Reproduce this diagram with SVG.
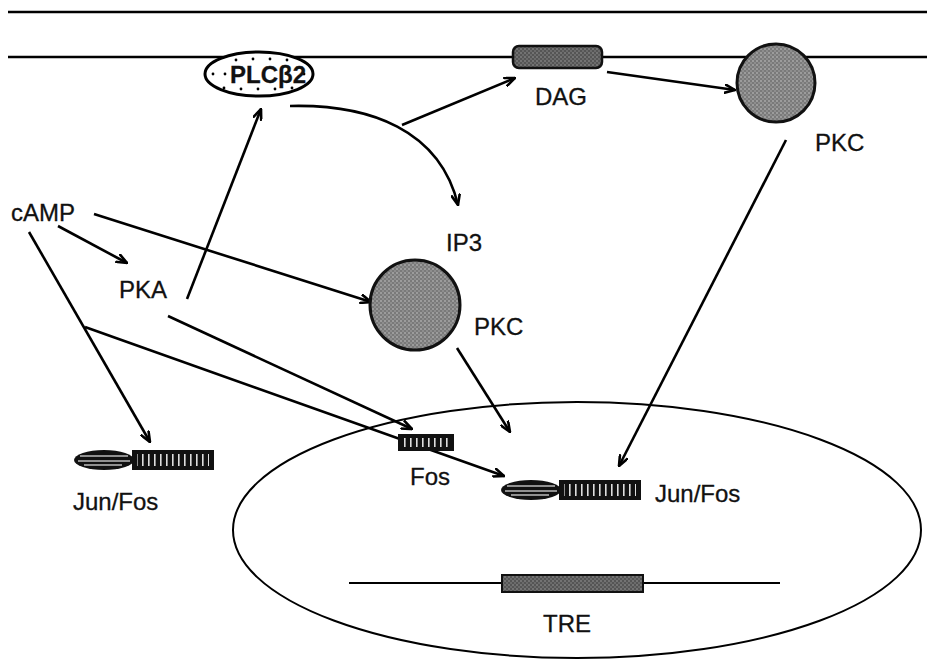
<svg xmlns="http://www.w3.org/2000/svg" width="927" height="662" viewBox="0 0 927 662">
<defs>
<marker id="arr" viewBox="0 0 12 10" refX="11" refY="5" markerWidth="12" markerHeight="10" markerUnits="userSpaceOnUse" orient="auto">
<path d="M0,0.5 L11,5 L0,9.5" fill="none" stroke="#000" stroke-width="2.6"/>
</marker>
<pattern id="stip" width="4" height="4" patternUnits="userSpaceOnUse">
<rect width="4" height="4" fill="#7a7a7a"/>
<circle cx="1" cy="1" r="0.8" fill="#c8c8c8"/>
<circle cx="3" cy="3" r="0.8" fill="#a8a8a8"/>
</pattern>
<pattern id="stipd" width="4" height="4" patternUnits="userSpaceOnUse">
<rect width="4" height="4" fill="#555"/>
<circle cx="1" cy="1" r="0.8" fill="#999"/>
<circle cx="3" cy="3" r="0.8" fill="#888"/>
</pattern>
<pattern id="stripes" width="6" height="4" patternUnits="userSpaceOnUse">
<rect width="6" height="4" fill="#111"/>
<rect x="2" width="1.6" height="4" fill="#ddd"/>
</pattern>
<g id="junfos">
<ellipse cx="0" cy="0" rx="30" ry="10" fill="#111"/>
<path d="M-24,-4 H24 M-26,1 H26 M-20,5 H18" stroke="#bbb" stroke-width="1.3"/>
<rect x="28" y="-10" width="82" height="20" fill="#111"/>
<rect x="33" y="-6" width="72" height="12" fill="url(#stripes)"/>
</g>
</defs>
<style>
text{font-family:"Liberation Sans",Arial,sans-serif;font-size:24px;fill:#111;stroke:#111;stroke-width:0.3}
.ln{fill:none;stroke:#000;stroke-width:2.6}
.ar{fill:none;stroke:#000;stroke-width:2.6;marker-end:url(#arr)}
.dot{fill:#000}
</style>
<rect width="927" height="662" fill="#fff"/>
<g id="membrane">
<line x1="8" y1="12" x2="927" y2="12" class="ln"/>
<line x1="8" y1="57" x2="927" y2="57" class="ln"/>
</g>
<g id="nucleus">
<ellipse cx="577" cy="530" rx="344" ry="128" fill="none" stroke="#000" stroke-width="2"/>
</g>
<g id="connectors">
<line x1="187" y1="299" x2="261" y2="109" class="ar"/>
<path d="M290,106 C370,104 440,130 458,205" class="ar"/>
<line x1="402" y1="125" x2="515" y2="78" class="ar"/>
<line x1="607" y1="72" x2="735" y2="90" class="ar"/>
<line x1="786" y1="140" x2="619" y2="466" class="ar"/>
<line x1="58" y1="226" x2="127" y2="263" class="ar"/>
<line x1="94" y1="214" x2="371" y2="302" class="ar"/>
<line x1="29" y1="232" x2="150" y2="442" class="ar"/>
<line x1="85" y1="327" x2="504" y2="476" class="ar"/>
<line x1="168" y1="316" x2="412" y2="429" class="ar"/>
<line x1="457" y1="348" x2="510" y2="432" class="ar"/>
</g>
<g id="plcb2">
<ellipse cx="259" cy="74" rx="54" ry="22" fill="#fff" stroke="#000" stroke-width="3"/>
<g class="dot">
<circle cx="236" cy="60" r="1.4"/><circle cx="253" cy="59" r="1.4"/><circle cx="270" cy="59" r="1.4"/><circle cx="287" cy="60" r="1.4"/>
<circle cx="213" cy="74" r="1.4"/><circle cx="225" cy="74" r="1.4"/><circle cx="304" cy="74" r="1.4"/>
<circle cx="224" cy="88" r="1.4"/><circle cx="241" cy="89" r="1.4"/><circle cx="258" cy="89" r="1.4"/><circle cx="275" cy="89" r="1.4"/><circle cx="292" cy="88" r="1.4"/>
</g>
<text x="268" y="83" text-anchor="middle" font-weight="bold" font-size="22">PLCβ2</text>
</g>
<g id="dag">
<rect x="513" y="46" width="89" height="22" rx="6" fill="url(#stipd)" stroke="#111" stroke-width="2.5"/>
<text x="535" y="105">DAG</text>
</g>
<g id="pkc1">
<circle cx="776" cy="83" r="39" fill="url(#stip)" stroke="#111" stroke-width="3"/>
<text x="815" y="151">PKC</text>
</g>
<g id="camp"><text x="11" y="221">cAMP</text></g>
<g id="pka"><text x="119" y="298">PKA</text></g>
<g id="ip3"><text x="446" y="251">IP3</text></g>
<g id="pkc2">
<circle cx="415" cy="305" r="45" fill="url(#stip)" stroke="#111" stroke-width="3"/>
<text x="474" y="335">PKC</text>
</g>
<g id="fos">
<rect x="398" y="434" width="56" height="17" fill="#111"/>
<rect x="402" y="438" width="48" height="9" fill="url(#stripes)"/>
<text x="410" y="485">Fos</text>
</g>
<g id="junfos-left">
<use href="#junfos" x="104" y="460"/>
<text x="73" y="510">Jun/Fos</text>
</g>
<g id="junfos-nuc">
<use href="#junfos" x="531" y="490"/>
<text x="655" y="502">Jun/Fos</text>
</g>
<g id="tre">
<line x1="349" y1="583" x2="780" y2="583" stroke="#000" stroke-width="2.2"/>
<rect x="502" y="575" width="141" height="17" fill="url(#stipd)" stroke="#111" stroke-width="2"/>
<text x="543" y="632">TRE</text>
</g>
</svg>
